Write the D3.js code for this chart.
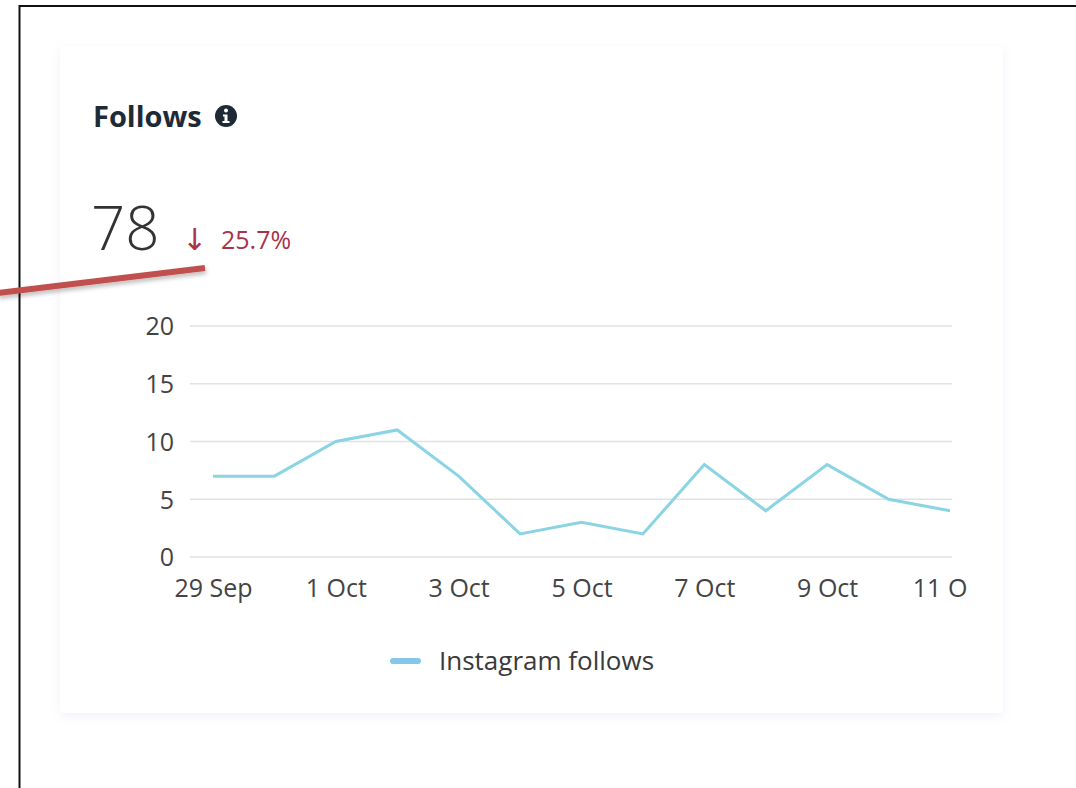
<!DOCTYPE html>
<html><head><meta charset="utf-8">
<script src="https://cdn.jsdelivr.net/npm/d3@7/dist/d3.min.js"></script>
<style>html,body{margin:0;padding:0;background:#fff;overflow:hidden}</style>
</head><body>
<svg id="c" width="1076" height="788"></svg>
<script>
const dates = ["29 Sep","30 Sep","1 Oct","2 Oct","3 Oct","4 Oct","5 Oct","6 Oct","7 Oct","8 Oct","9 Oct","10 Oct","11 Oct"];
const follows = [7,7,10,11,7,2,3,2,8,4,8,5,4];
const yTicks = [0,5,10,15,20];
const xTickLabels = ["29 Sep","1 Oct","3 Oct","5 Oct","7 Oct","9 Oct","11 Oct"];
const seriesName = "Instagram follows";
const total = "78";
const changeArrow = "↓";
const changeValue = "25.7%";
const title = "Follows";

const svg = d3.select("#c");
const font = "'Open Sans', 'Noto Sans', sans-serif";

const defs = svg.append("defs");
const f = defs.append("filter").attr("id","sh").attr("x","-10%").attr("y","-10%").attr("width","120%").attr("height","120%");
f.append("feDropShadow").attr("dx",0).attr("dy",3).attr("stdDeviation",5).attr("flood-color","#8090d0").attr("flood-opacity",0.12);
const f2 = defs.append("filter").attr("id","sh2").attr("x","-10%").attr("y","-50%").attr("width","120%").attr("height","200%");
f2.append("feDropShadow").attr("dx",1).attr("dy",3).attr("stdDeviation",2).attr("flood-color","#000").attr("flood-opacity",0.25);
defs.append("clipPath").attr("id","xclip").append("rect").attr("x",150).attr("y",-40).attr("width",818).attr("height",60);

// outer border
svg.append("path").attr("d","M19.5,788 L19.5,6 L1076,6").attr("fill","none").attr("stroke","#111").attr("stroke-width",2);

// card
svg.append("rect").attr("x",60).attr("y",46).attr("width",943).attr("height",667).attr("rx",4)
  .attr("fill","#fff").attr("filter","url(#sh)");

// title
svg.append("text").attr("x",93).attr("y",127).attr("font-family",font).attr("font-weight",700)
  .attr("font-size",29).attr("fill","#1e2b37").text(title);
const ic = svg.append("g").attr("transform","translate(226,116)");
ic.append("circle").attr("r",11).attr("fill","#1e2b37");
ic.append("circle").attr("cx",0).attr("cy",-5.5).attr("r",2).attr("fill","#fff");
ic.append("path").attr("d","M-3,-1.5 L1.5,-1.5 L1.5,5 L3.5,5 L3.5,7 L-3.5,7 L-3.5,5 L-1.5,5 L-1.5,0.5 L-3,0.5 Z").attr("fill","#fff");

// big number
svg.append("text").attr("x",91).attr("y",250).attr("font-family",font).attr("font-weight",300)
  .attr("font-size",60).attr("fill","#333").text(total);
const ch = svg.append("text").attr("x",182).attr("y",250).attr("fill","#a8334a");
ch.append("tspan").attr("font-family","'DejaVu Sans', sans-serif").attr("font-size",30).text(changeArrow);
ch.append("tspan").attr("x",221).attr("y",249).attr("font-family",font).attr("font-size",25).text(changeValue);

// chart
const x = d3.scalePoint().domain(dates).range([213, 950]);
const y = d3.scaleLinear().domain([0,20]).range([557, 326]);

const grid = svg.append("g");
grid.selectAll("line").data(yTicks).join("line")
  .attr("x1",190).attr("x2",952).attr("y1",d=>y(d)).attr("y2",d=>y(d))
  .attr("stroke","#e2e2e2").attr("stroke-width",1.5);

const yAxis = svg.append("g").attr("transform","translate(174,0)")
  .call(d3.axisLeft(y).tickValues(yTicks).tickSize(0).tickPadding(0));
yAxis.select(".domain").remove();
yAxis.selectAll("text").attr("font-family",font).attr("font-size",25).attr("fill","#444").attr("dy","0.35em");

const xAxis = svg.append("g").attr("transform","translate(0,597)").attr("clip-path","url(#xclip)")
  .call(d3.axisBottom(x).tickValues(xTickLabels).tickSize(0).tickPadding(0));
xAxis.select(".domain").remove();
xAxis.selectAll("text").attr("font-family",font).attr("font-size",25).attr("fill","#444").attr("y",0).attr("dy","0");

const line = d3.line().x((d,i)=>x(dates[i])).y(d=>y(d));
svg.append("path").datum(follows).attr("d",line).attr("fill","none")
  .attr("stroke","#8ad4e4").attr("stroke-width",3).attr("stroke-linejoin","miter");

// legend
svg.append("line").attr("x1",393).attr("x2",418).attr("y1",661).attr("y2",661)
  .attr("stroke","#85c6ea").attr("stroke-width",6).attr("stroke-linecap","round");
svg.append("text").attr("x",439).attr("y",670).attr("font-family",font).attr("font-size",26)
  .attr("fill","#3a3a3a").text(seriesName);

// red annotation line
svg.append("line").attr("x1",-2).attr("y1",293).attr("x2",205).attr("y2",268)
  .attr("stroke","#c0504d").attr("stroke-width",6).attr("filter","url(#sh2)");
</script>
</body></html>
